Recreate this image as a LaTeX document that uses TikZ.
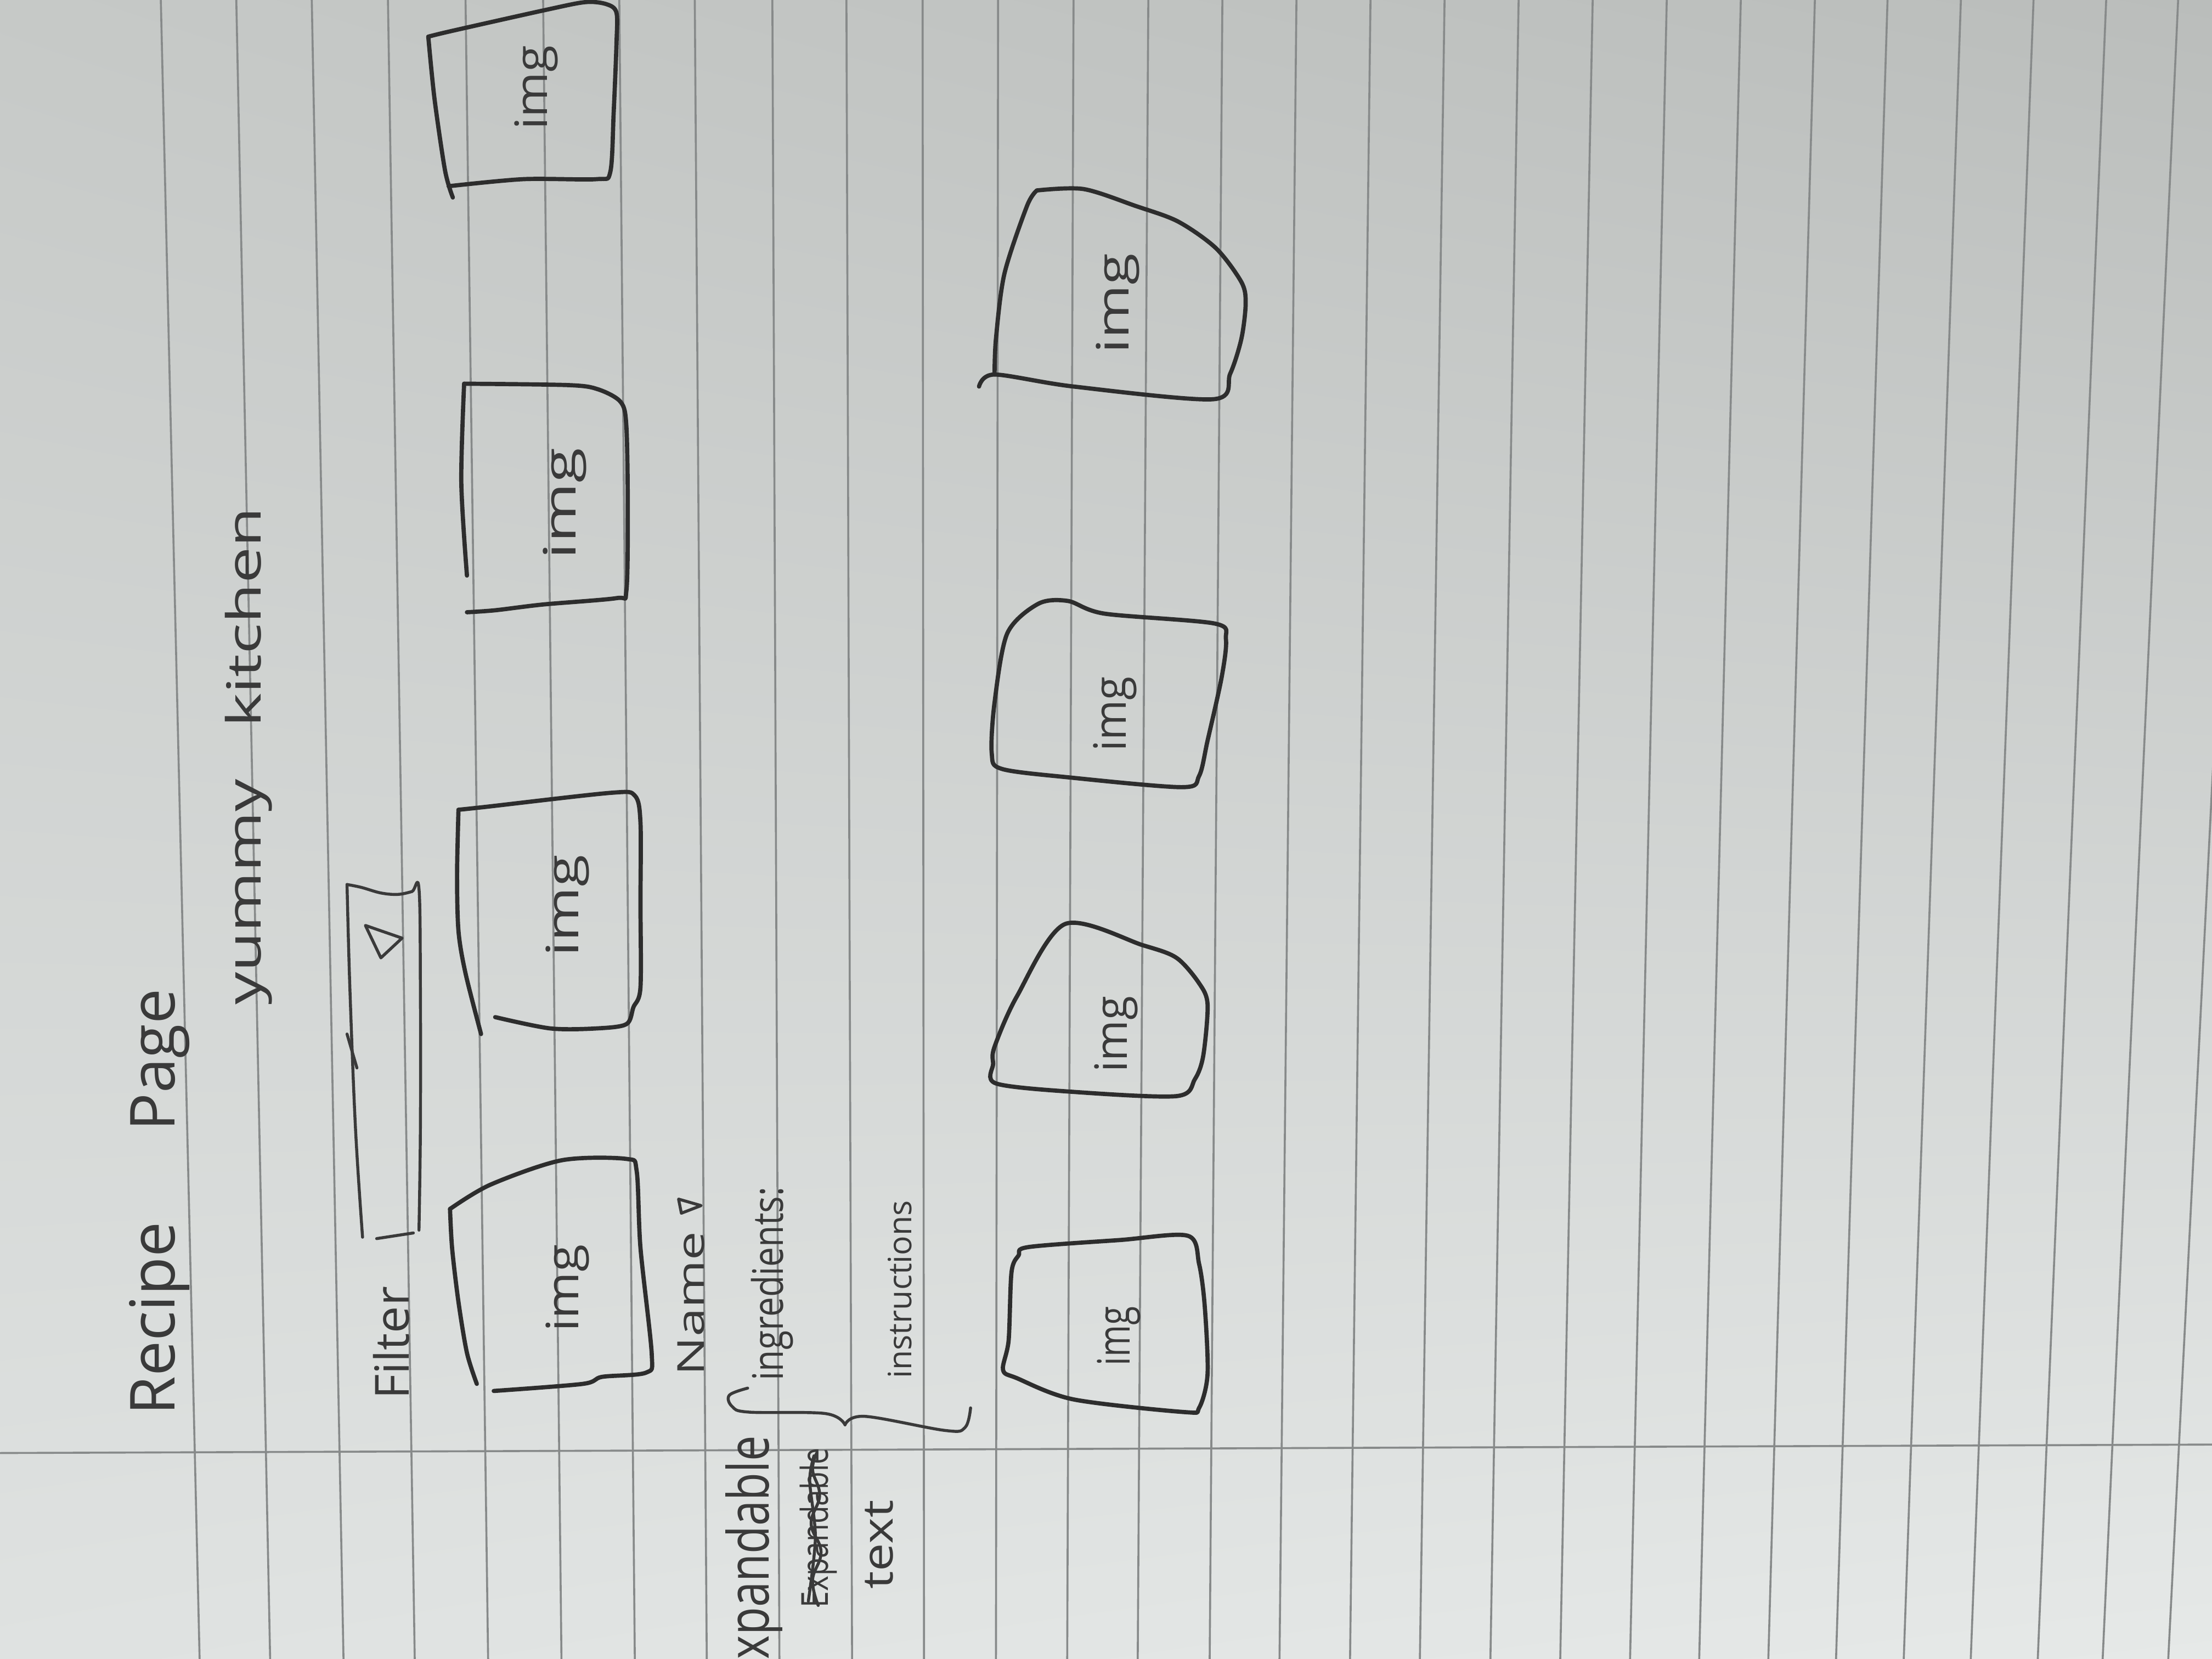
\documentclass[tikz,border=0pt]{standalone}
\usepackage{fontspec}
\setmainfont{Open Sans}
\usepackage{graphicx}
\usetikzlibrary{shadings}
\definecolor{inkc}{RGB}{45,45,45}
\definecolor{textc}{RGB}{58,58,58}
\definecolor{rulec}{RGB}{135,138,138}
\definecolor{pul}{RGB}{198,201,199}
\definecolor{pur}{RGB}{186,189,187}
\definecolor{pll}{RGB}{223,226,225}
\definecolor{plr}{RGB}{230,233,232}
\newcommand{\hw}[3]{\resizebox{#1}{\height}{\fontsize{#2}{#2}\selectfont #3}}
\begin{document}
\begin{tikzpicture}[x=0.01cm,y=-0.01cm,
  ink/.style={draw=inkc, line width=0.85pt, line cap=round, line join=round},
  thinink/.style={draw=textc, line width=0.6pt, line cap=round, line join=round},
  rule/.style={draw=rulec, line width=0.4pt},
  hand/.style={inner sep=0pt, outer sep=0pt, text=textc, rotate=90, anchor=base}]
\useasboundingbox (0,0) rectangle (1568,1176);
\clip (0,0) rectangle (1568,1176);
% paper
\shade[upper left=pul, upper right=pur, lower left=pll, lower right=plr] (0,0) rectangle (1568,1176);
% ruled lines
\foreach \t/\b in {114/141.5,167.5/191.5,221/243.5,275/294,330/346,385/398,439/450,492.5/501,547.5/552.5,600/604,654/655,707.5/706,761/756.5,814/806.5,866.5/857.5,919/907,971.5/957,1024/1006.5,1076.5/1056.5,1129/1106,1181.5/1155.5,1234/1204.5,1286.5/1253.5,1338/1301.5,1390/1349.5,1441.5/1397,1493/1444.5,1544/1490.5,1596/1537}
  \draw[rule] (\t,0) -- (\b,1176);
\draw[rule] (0,1030) -- (1568,1024);

% titles
\node[hand] (title) at (124,852) {\hw{3.02cm}{12.5}{Recipe\hspace{1.45em}Page}};
\node[hand] (brand) at (185,536) {\hw{3.52cm}{9.5}{yummy\hspace{0.8em}kitchen}};

% filter
\node[hand] (filter) at (290,952) {\hw{0.80cm}{9.5}{Filter}};
\draw[thinink] plot[smooth, tension=0.6] coordinates {(246,627) (256,629) (270,633) (282,634) (292,632) (297,630) (298,700) (298,800) (297,872)};
\draw[thinink] plot[smooth, tension=0.6] coordinates {(246,627) (248,700) (252,800) (257,877)};
\draw[thinink] (246,733) -- (253,757);
\draw[thinink] (267,878) -- (293,874);
\draw[thinink] (259,656) -- (285,665) -- (270,679) -- cycle;

% sort by name
\node[hand] (name) at (499,924) {\hw{1.02cm}{7.5}{Name}};
\draw[thinink] (481,850) -- (497,854.6) -- (483,860) -- cycle;

% details
\node[hand] (ingr) at (555,910) {\hw{1.37cm}{8.5}{ingredients:}};
\node[hand] (instr) at (646,914) {\hw{1.26cm}{6.5}{instructions}};
\node[hand, anchor=base west] (expd) at (545,1176) {\hw{1.58cm}{11.5}{xpandable}};
\node[hand] (crossed) at (587,1083) {\hw{1.13cm}{7.5}{Expandable}};
\draw[thinink] plot[smooth, tension=0.7] coordinates {(580,1138) (576,1120) (582,1100) (575,1080) (581,1060) (576,1042) (579,1030)};
\draw[thinink] plot[smooth] coordinates {(573,1135) (578,1090) (574,1050) (577,1032)};
\node[hand] (txt) at (633,1095) {\hw{0.63cm}{8.5}{text}};
% brace
\draw[thinink] plot[smooth, tension=0.6] coordinates {(530,984) (517,989) (519,997) (531,1001) (585,1002) (599,1010)};
\draw[thinink] plot[smooth, tension=0.6] coordinates {(599,1010) (613,1004) (670,1014) (684,1012) (688,998)};

% image boxes, row 1
\draw[ink] plot[smooth, tension=0.5] coordinates {(319,857) (347.6,839.8) (398,822.5) (444,821.5) (451.3,830) (454,884.5) (462,960) (458,973) (426.8,976) (413,981) (350,986)};
\draw[ink] plot[smooth, tension=0.5] coordinates {(319,857) (320.5,885) (325,923) (331,959) (338,981)};
\node[hand] (img1) at (410,913) {\hw{0.62cm}{9}{img}};

\draw[ink] plot[smooth, tension=0.5] coordinates {(325,574) (344,572) (433,562) (450,564) (454,583) (454,640) (454,700) (449,714) (444,726) (423,729) (390,729) (351,721)};
\draw[ink] plot[smooth, tension=0.5] coordinates {(325,574) (324,620) (325,660) (330,690) (341,733)};
\node[hand] (img2) at (410,642) {\hw{0.72cm}{9}{img}};

\draw[ink] plot[smooth, tension=0.5] coordinates {(329,272) (403,273) (424,276) (440,285) (444,302) (445,360) (444,419) (437,424) (385,428.5) (351,432.6) (331,434)};
\draw[ink] plot[smooth, tension=0.5] coordinates {(329,272) (327,342) (331,408)};
\node[hand] (img3) at (408,357) {\hw{0.79cm}{9}{img}};

\draw[ink] plot[smooth, tension=0.5] coordinates {(303.6,26) (320,22) (387,7) (415,1.5) (430,3) (437,9) (437,31) (435,80) (432.6,122) (423,127) (371,127) (318,132)};
\draw[ink] plot[smooth, tension=0.5] coordinates {(303.6,26) (308,70) (315.5,121) (321,140)};
\node[hand] (img4) at (388,62) {\hw{0.60cm}{9}{img}};

% image boxes, row 2
\draw[ink] plot[smooth, tension=0.5] coordinates {(735,135) (768,134) (805,146) (835,157) (862,176) (880,200) (883,215) (880,240) (872,265) (860,283) (761,274) (705,265.5) (694,274)};
\draw[ink] plot[smooth, tension=0.5] coordinates {(735,135) (728,146) (712,194) (706,240) (705,265)};
\node[hand] (img5) at (800,215) {\hw{0.71cm}{9}{img}};

\draw[ink] plot[smooth cycle, tension=0.5] coordinates {(714,449) (736,428) (757,426) (783,435) (861,442) (869,453) (866,480) (856,525) (850,550) (838,558) (757,551) (710,545) (703,534) (705,498)};
\node[hand] (img6) at (798,506) {\hw{0.53cm}{9}{img}};

\draw[ink] plot[smooth cycle, tension=0.5] coordinates {(705,742) (721,706) (755,655) (810,670) (834,679) (850,697) (856,712) (853,748) (847,765) (834,777) (761,774) (706,768) (704,754)};
\node[hand] (img7) at (799,733) {\hw{0.54cm}{9}{img}};

\draw[ink] plot[smooth cycle, tension=0.5] coordinates {(722,890) (729,884) (794,879) (842,876) (850,896) (854,926) (856,974) (850,998) (840,1001) (761,992) (721,977) (711,971) (715,950) (717,902)};
\node[hand] (img8) at (801,947) {\hw{0.42cm}{9}{img}};
\end{tikzpicture}
\end{document}
